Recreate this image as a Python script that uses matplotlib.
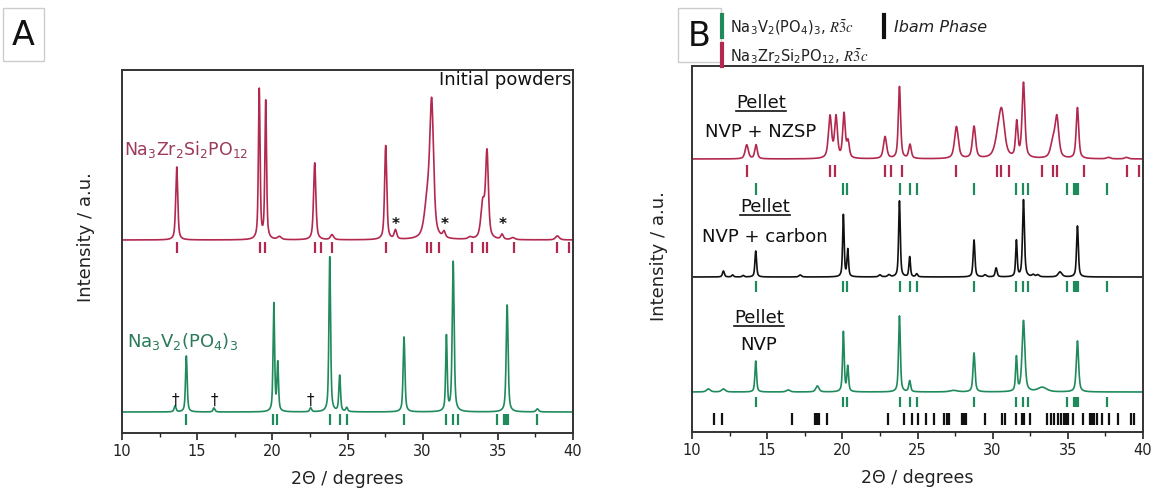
import numpy as np
import matplotlib
matplotlib.use("Agg")
import matplotlib.pyplot as plt
from matplotlib.patches import Rectangle
from matplotlib.lines import Line2D

plt.rcParams['font.family'] = ['DejaVu Sans']
plt.rcParams['mathtext.fontset'] = 'stix'
plt.rcParams['mathtext.default'] = 'regular'

# ---------------- data (peak positions [deg], heights [a.u.], FWHM [deg]) ----------------
# Panel A : initial powders
nzsp_A_pos = [13.64, 19.13, 19.56, 20.47, 22.82, 23.97, 27.54, 28.19, 30.31, 30.60, 31.42,
              33.15, 34.00, 34.28, 35.28, 36.00, 38.96]
nzsp_A_h = [73, 150, 138, 3, 77, 5, 94, 9, 35, 130, 6, 2, 35, 85, 5, 2, 4]
nzsp_A_w = [0.16, 0.13, 0.13, 0.3, 0.18, 0.25, 0.17, 0.2, 0.45, 0.3, 0.2, 0.3, 0.3, 0.22, 0.2, 0.3, 0.3]
nzsp_A_base = 193

nvp_A_pos = [13.53, 14.28, 16.12, 20.10, 20.36, 22.55, 23.82, 24.48, 24.95, 28.76, 31.58,
             32.03, 35.62, 37.63]
nvp_A_h = [6, 56, 4, 108, 48, 4, 155, 36, 4, 75, 75, 150, 107, 3]
nvp_A_w = [0.15, 0.13, 0.15, 0.12, 0.12, 0.15, 0.13, 0.13, 0.15, 0.14, 0.12, 0.15, 0.15, 0.2]
nvp_A_base = 21

# Panel B : pellets
mix_B_pos = [13.64, 14.26, 19.18, 19.58, 20.11, 20.38, 22.84, 23.80, 24.50, 27.59, 28.76,
             30.35, 30.60, 31.60, 32.05, 34.00, 34.27, 35.64, 37.70, 38.90]
mix_B_h = [14, 14, 42, 41, 44, 16, 22, 72, 14, 32, 32, 15, 43, 35, 75, 15, 40, 51, 1.5, 1.5]
mix_B_w = [0.25, 0.2, 0.25, 0.22, 0.2, 0.2, 0.25, 0.18, 0.2, 0.3, 0.25, 0.5, 0.45, 0.18,
           0.22, 0.35, 0.3, 0.2, 0.3, 0.3]
mix_B_base = 273

carb_B_pos = [12.09, 12.70, 13.40, 14.24, 17.20, 20.07, 20.36, 22.50, 23.10, 23.80, 24.48,
              24.95, 28.76, 29.50, 30.23, 31.58, 32.05, 32.70, 33.00, 34.48, 35.64]
carb_B_h = [6, 2, 1.5, 26, 2, 62, 27, 2, 2, 76, 20, 3, 37, 2, 9, 36, 77, 2, 2, 5, 51]
carb_B_w = [0.15, 0.15, 0.15, 0.13, 0.2, 0.12, 0.12, 0.2, 0.2, 0.13, 0.12, 0.15, 0.14, 0.2,
            0.15, 0.12, 0.15, 0.2, 0.2, 0.3, 0.14]
carb_B_base = 155

nvp_B_pos = [11.09, 12.09, 14.24, 16.40, 18.34, 20.07, 20.36, 23.80, 24.48, 27.40, 28.76,
             31.58, 32.05, 33.30, 35.64]
nvp_B_h = [3, 3, 31, 2, 6, 60, 25, 76, 11, 1.5, 39, 34, 71, 4.5, 51]
nvp_B_w = [0.3, 0.3, 0.13, 0.3, 0.25, 0.13, 0.13, 0.14, 0.15, 0.6, 0.16, 0.13, 0.22, 0.7, 0.18]
nvp_B_base = 40

# reflection positions
nzsp_refl = [13.68, 19.18, 19.51, 22.82, 23.26, 23.97, 27.54, 30.31, 30.58, 31.11, 33.31,
             34.00, 34.26, 36.08, 38.94, 39.74]
nvp_refl = [14.28, 20.07, 20.33, 23.82, 24.48, 24.95, 28.76, 31.58, 32.00, 32.38, 34.97,
            35.44, 35.55, 35.66, 37.63]
ibam_refl = [11.46, 12.00, 16.63, 18.16, 18.25, 18.34, 18.43, 18.96, 23.06, 24.13, 24.66,
             25.01, 25.55, 26.10, 26.79, 26.94, 27.10, 27.94, 28.10, 28.25, 29.52, 30.60,
             30.83, 31.53, 31.96, 32.11, 32.49, 33.60, 33.86, 34.11, 34.33, 34.53, 34.75,
             34.88, 35.04, 35.37, 36.04, 36.48, 36.64, 36.77, 36.92, 37.30, 37.74, 38.37,
             39.21, 39.41]

xticks = [10, 15, 20, 25, 30, 35, 40]

# ---------------- colours ----------------
RED = "#b3284f"
RED_LBL = "#9c3a5a"
GREEN = "#1f8a5c"
GREEN_LBL = "#2b7a5a"
BLACK = "#111111"

x = np.linspace(10, 40, 3001)


def profile(base, pos, h, w):
    y = np.full_like(x, float(base))
    for c, hh, ww in zip(pos, h, w):
        g = np.exp(-4 * np.log(2) * ((x - c) / ww) ** 2)
        l = 1.0 / (1.0 + (2 * (x - c) / ww) ** 2)
        y += hh * (0.6 * l + 0.4 * g)
    return y


W, H = 1155, 491
fig = plt.figure(figsize=(W / 100, H / 100), dpi=100)


def fx(px):
    return px / W


def fy(py):
    return 1 - py / H


axA = fig.add_axes([fx(122), fy(433), fx(573) - fx(122), fy(70) - fy(433)])
axB = fig.add_axes([fx(692), fy(432), fx(1143) - fx(692), fy(66) - fy(432)])

for ax, top in ((axA, 363), (axB, 366)):
    ax.set_xlim(10, 40)
    ax.set_ylim(0, top)
    ax.set_yticks([])
    ax.set_xticks(xticks)
    ax.set_xticks(np.arange(12.5, 40, 5), minor=True)
    ax.tick_params(axis='x', which='major', direction='out', length=5, width=1.2,
                   labelsize=10.5, colors='#222222', pad=3)
    ax.tick_params(axis='x', which='minor', direction='out', length=3, width=1.0,
                   colors='#222222')
    for s in ax.spines.values():
        s.set_linewidth(1.4)
        s.set_color('#333333')
    ax.set_xlabel('2Θ / degrees', fontsize=12.5, color='#222222', labelpad=8)
    ax.set_ylabel('Intensity / a.u.', fontsize=13, color='#222222')

axA.yaxis.set_label_coords(-0.06, 0.54)
axB.yaxis.set_label_coords(-0.053, 0.48)

# ---------------- Panel A ----------------
axA.plot(x, profile(nzsp_A_base, nzsp_A_pos, nzsp_A_h, nzsp_A_w), color=RED, lw=1.2)
axA.plot(x, profile(nvp_A_base, nvp_A_pos, nvp_A_h, nvp_A_w), color=GREEN, lw=1.2)
axA.vlines(nzsp_refl, 180, 191, color=RED, lw=1.6)
axA.vlines(nvp_refl, 8, 19, color=GREEN, lw=1.6)

for xs in (28.2, 31.45, 35.3):
    axA.text(xs, 209, '*', ha='center', va='center', fontsize=11, color='#111111',
             fontweight='bold')
for xs in (13.55, 16.12, 22.55):
    axA.text(xs, 33, '†', ha='center', va='center', fontsize=11, color='#111111')

axA.text(10.13, 283, r'Na$_3$Zr$_2$Si$_2$PO$_{12}$', color=RED_LBL, fontsize=12.5,
         ha='left', va='center')
axA.text(10.33, 91, r'Na$_3$V$_2$(PO$_4$)$_3$', color=GREEN_LBL, fontsize=13,
         ha='left', va='center')
axA.text(39.9, 353, 'Initial powders', color='#111111', fontsize=13, ha='right', va='center')

# ---------------- Panel B ----------------
axB.plot(x, profile(mix_B_base, mix_B_pos, mix_B_h, mix_B_w), color=RED, lw=1.2)
axB.plot(x, profile(carb_B_base, carb_B_pos, carb_B_h, carb_B_w), color=BLACK, lw=1.2)
axB.plot(x, profile(nvp_B_base, nvp_B_pos, nvp_B_h, nvp_B_w), color=GREEN, lw=1.2)
axB.vlines(nzsp_refl, 255, 267, color=RED, lw=1.6)
axB.vlines(nvp_refl, 237, 249, color=GREEN, lw=1.6)
axB.vlines(nvp_refl, 140, 151, color=GREEN, lw=1.6)
axB.vlines(nvp_refl, 25, 35, color=GREEN, lw=1.6)
axB.vlines(ibam_refl, 7, 19, color=BLACK, lw=1.6)

pellets = []
for xc, yp, yl, lab in ((14.59, 329, 300, 'NVP + NZSP'),
                        (14.86, 225, 195, 'NVP + carbon'),
                        (14.46, 114, 87, 'NVP')):
    t = axB.text(xc, yp, 'Pellet', fontsize=13, ha='center', va='center', color='#111111')
    pellets.append(t)
    axB.text(xc, yl, lab, fontsize=13, ha='center', va='center', color='#111111')

# ---------------- panel letters ----------------
for (x0, y0, x1, y1, letter) in ((3, 8, 44, 61, 'A'), (678, 8, 721, 62, 'B')):
    fig.add_artist(Rectangle((fx(x0), fy(y1)), fx(x1) - fx(x0), fy(y0) - fy(y1),
                             transform=fig.transFigure, facecolor='white',
                             edgecolor='#cccccc', lw=1.0))
    fig.text(fx((x0 + x1) / 2), fy((y0 + y1) / 2 + 1), letter, fontsize=24,
             ha='center', va='center', color='#111111')

# ---------------- legend for panel B ----------------
fig.add_artist(Line2D([fx(722), fx(722)], [fy(15), fy(37)], color=GREEN, lw=3,
                      transform=fig.transFigure))
fig.add_artist(Line2D([fx(722), fx(722)], [fy(44), fy(66)], color=RED, lw=3,
                      transform=fig.transFigure))
fig.add_artist(Line2D([fx(884), fx(884)], [fy(15), fy(37)], color=BLACK, lw=3,
                      transform=fig.transFigure))
fig.text(fx(730), fy(27), r'Na$_3$V$_2$(PO$_4$)$_3$, $\mathit{R}\bar{\mathrm{3}}\mathit{c}$',
         fontsize=10.5, ha='left', va='center', color='#222222')
fig.text(fx(730), fy(56), r'Na$_3$Zr$_2$Si$_2$PO$_{12}$, $\mathit{R}\bar{\mathrm{3}}\mathit{c}$',
         fontsize=10.5, ha='left', va='center', color='#222222')
fig.text(fx(894), fy(27), 'Ibam Phase', fontsize=11.5, style='italic',
         ha='left', va='center', color='#222222')

# underline the "Pellet" labels
fig.canvas.draw()
r = fig.canvas.get_renderer()
inv = fig.transFigure.inverted()
for t in pellets:
    bb = t.get_window_extent(r)
    (a0, b0) = inv.transform((bb.x0, bb.y0 + 1))
    (a1, _) = inv.transform((bb.x1, bb.y0 + 1))
    fig.add_artist(Line2D([a0, a1], [b0, b0], color='#111111', lw=1.2,
                          transform=fig.transFigure))

fig.savefig('out.png', dpi=100)
